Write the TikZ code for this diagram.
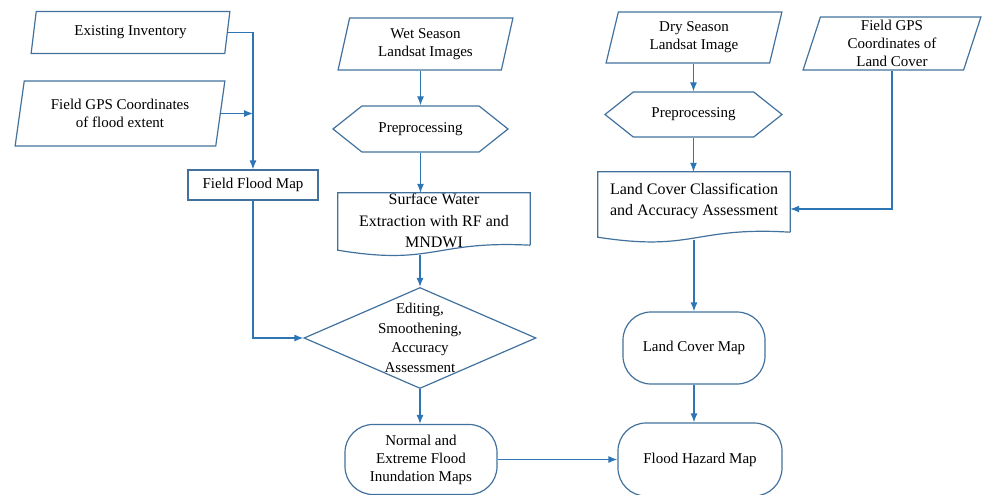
\documentclass[tikz,border=0pt]{standalone}
\usepackage{fontspec}
\setmainfont{Liberation Serif}
\usetikzlibrary{shapes.geometric, shapes.symbols, arrows.meta, calc}
\definecolor{boxblue}{RGB}{65,113,156}
\definecolor{lineblue}{RGB}{46,117,182}

\begin{document}
\begin{tikzpicture}[x=1pt, y=-1pt]

\tikzset{base/.style = {draw=boxblue, line width=1.2pt, font=\fontsize{15}{18}\selectfont, align=center, inner sep=0pt}}
\tikzset{data/.style = {base, trapezium, trapezium left angle=77, trapezium right angle=103, trapezium stretches=true}}
\tikzset{prep/.style = {base, signal, signal to=east and west, signal pointer angle=77}}
\tikzset{doc/.style = {rectangle, inner sep=0pt}}
\tikzset{term/.style = {base, rectangle, rounded corners=28pt}}
\tikzset{txt/.style = {font=\fontsize{16}{21.5}\selectfont, align=center, inner sep=0pt}}
\tikzset{flow/.style = {->, > = {Latex[length=9pt, width=7pt]}, draw=lineblue, line width=1.2pt}}

\useasboundingbox (0,0) rectangle (983,495);

% left column
\node[data, minimum width=199, minimum height=42] (inv) at (130.5,32.5) {Existing Inventory};
\node[data, minimum width=210, minimum height=65] (gps1) at (120,113.5) {Field GPS Coordinates\\of flood extent};
\node[base, rectangle, minimum width=130, minimum height=30] (fmap) at (253,185) {Field Flood Map};

% middle column
\node[data, minimum width=175, minimum height=52] (wet) at (425.5,44) {Wet Season\\Landsat Images};
\node[prep, minimum width=175, minimum height=46] (pre1) at (420.5,129) {Preprocessing};
\node[doc, minimum width=192, minimum height=65, label={[txt, yshift=5pt]center:{Surface Water\\Extraction with RF and\\MNDWI}}] (surf) at (434,225.5) {};
\node[base, diamond, minimum width=232, minimum height=101, label={[txt, font=\fontsize{15}{19.5}\selectfont]center:{Editing,\\Smoothening,\\Accuracy\\Assessment}}] (edit) at (420,338) {};
\node[term, minimum width=152, minimum height=70] (norm) at (421,459.5) {Normal and\\Extreme Flood\\Inundation Maps};

% right columns
\node[data, minimum width=176, minimum height=51] (dry) at (694,37.5) {Dry Season\\Landsat Image};
\node[prep, minimum width=177, minimum height=45] (pre2) at (693.5,114.5) {Preprocessing};
\node[doc, minimum width=192, minimum height=74, label={[txt, yshift=8pt]center:{Land Cover Classification\\and Accuracy Assessment}}] (lcc) at (694,209) {};
\node[data, minimum width=178, minimum height=53] (gps2) at (892,43.5) {Field GPS\\Coordinates of\\Land Cover};
\node[term, minimum width=142, minimum height=72] (lcm) at (694,348) {Land Cover Map};
\node[term, minimum width=164, minimum height=73] (fhm) at (700,459.5) {Flood Hazard Map};

% document outlines
\draw[boxblue, line width=1.2pt] ($(surf.south east)+(0,-13)$) -- (surf.north east) -- (surf.north west) -- ($(surf.south west)+(0,-8)$)
  .. controls ($(surf.south)+(0,8)$) and ($(surf.south)+(0,-18)$) .. ($(surf.south east)+(0,-13)$);
\draw[boxblue, line width=1.2pt] ($(lcc.south east)+(0,-14)$) -- (lcc.north east) -- (lcc.north west) -- ($(lcc.south west)+(0,-9)$)
  .. controls ($(lcc.south)+(0,6)$) and ($(lcc.south)+(0,-20)$) .. ($(lcc.south east)+(0,-14)$);

% edges
\draw[flow] (inv.east) -| (fmap.north);
\draw[flow] (gps1.east) -- (gps1.east -| fmap.north);
\draw[flow] (fmap.south) |- (edit.west);
\draw[flow] (pre1.north |- wet.south) -- (pre1.north);
\draw[flow] (pre1.south) -- (pre1.south |- surf.north);
\draw[flow] ($(edit.north |- surf.south)+(0,-3)$) -- (edit.north);
\draw[flow] (edit.south) -- (edit.south |- norm.north);
\draw[flow] (norm.east) -- (fhm.west);
\draw[flow] (pre2.north |- dry.south) -- (pre2.north);
\draw[flow] (pre2.south) -- (pre2.south |- lcc.north);
\draw[flow] (gps2.south) |- (lcc.east);
\draw[flow] ($(lcc.south)+(0,-6)$) -- (lcm.north);
\draw[flow] (lcm.south) -- (lcm.south |- fhm.north);

\end{tikzpicture}
\end{document}
